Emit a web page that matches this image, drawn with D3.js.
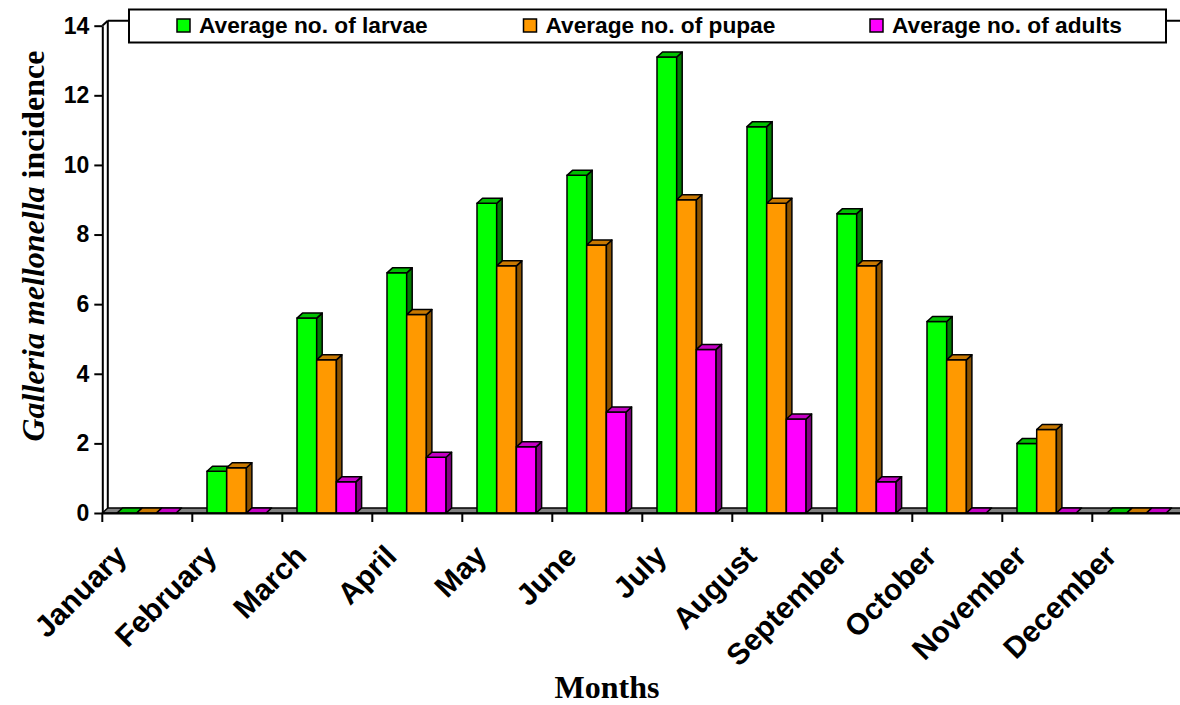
<!DOCTYPE html>
<html>
<head>
<meta charset="utf-8">
<script src="https://cdn.jsdelivr.net/npm/d3@7"></script>
<style>
  html, body { margin: 0; padding: 0; background: #fff; }
  svg { display: block; }
</style>
</head>
<body>
<svg id="chart" width="1180" height="705"></svg>
<script>
// Monthly incidence of Galleria mellonella stages
const months = ["January", "February", "March", "April", "May", "June",
                "July", "August", "September", "October", "November", "December"];
const larvae = [0, 1.2, 5.6, 6.9, 8.9, 9.7, 13.1, 11.1, 8.6, 5.5, 2.0, 0];
const pupae  = [0, 1.3, 4.4, 5.7, 7.1, 7.7, 9.0, 8.9, 7.1, 4.4, 2.4, 0];
const adults = [0, 0, 0.9, 1.6, 1.9, 2.9, 4.7, 2.7, 0.9, 0, 0, 0];
const seriesNames = ["Average no. of larvae", "Average no. of pupae", "Average no. of adults"];
const yTicks = [0, 2, 4, 6, 8, 10, 12, 14];

const seriesValues = [larvae, pupae, adults];
// front / side / top shades for each series
const shades = [
  { front: "#00ff00", side: "#008000", top: "#00c000" },
  { front: "#ff9900", side: "#8a5200", top: "#c87800" },
  { front: "#ff00ff", side: "#850085", top: "#c400c4" }
];

const svg = d3.select("#chart");

// 3D depth offset
const DX = 5.5, DY = 5;

const x0 = d3.scaleBand().domain(months).range([102.3, 1182.3]).paddingInner(0).paddingOuter(0);
const x1 = d3.scaleBand().domain(d3.range(3)).range([14.7, 73.8]);
const y = d3.scaleLinear().domain([0, 14]).range([513, 25.7]);
const yBase = y(0);
const xLeft = x0.range()[0], xRight = x0.range()[1];

const ink = "#000";

// back wall: top edge and left edge
svg.append("line")
  .attr("x1", xLeft + DX).attr("x2", xRight + DX)
  .attr("y1", y(14) - DY).attr("y2", y(14) - DY)
  .attr("stroke", ink).attr("stroke-width", 2);
svg.append("line")
  .attr("x1", xLeft + DX).attr("x2", xLeft + DX)
  .attr("y1", y(14) - DY).attr("y2", yBase - DY)
  .attr("stroke", ink).attr("stroke-width", 2);
svg.append("line")
  .attr("x1", xLeft).attr("x2", xLeft + DX)
  .attr("y1", y(14)).attr("y2", y(14) - DY)
  .attr("stroke", ink).attr("stroke-width", 2);

// floor
const floorPts = [[xLeft, yBase], [xRight, yBase], [xRight + DX, yBase - DY], [xLeft + DX, yBase - DY]];
svg.append("polygon")
  .attr("points", floorPts.map(p => p.join(",")).join(" "))
  .attr("fill", "#808080").attr("stroke", ink).attr("stroke-width", 1.5)
  .attr("stroke-linejoin", "round");

// bars
const bars = svg.append("g");
months.forEach((m, i) => {
  seriesValues.forEach((vals, s) => {
    const v = vals[i];
    const bx = x0(m) + x1(s);
    const w = x1.bandwidth();
    const ty = y(v);
    const g = bars.append("g")
      .attr("stroke", ink).attr("stroke-width", 1.5).attr("stroke-linejoin", "round");
    if (v > 0) {
      g.append("rect")
        .attr("x", bx).attr("y", ty).attr("width", w).attr("height", yBase - ty)
        .attr("fill", shades[s].front);
      g.append("polygon")
        .attr("points", [[bx + w, ty], [bx + w + DX, ty - DY], [bx + w + DX, yBase - DY], [bx + w, yBase]]
          .map(p => p.join(",")).join(" "))
        .attr("fill", shades[s].side);
    }
    g.append("polygon")
      .attr("points", [[bx, ty], [bx + DX, ty - DY], [bx + w + DX, ty - DY], [bx + w, ty]]
        .map(p => p.join(",")).join(" "))
      .attr("fill", shades[s].top);
  });
});

// y axis
const yAxis = d3.axisLeft(y).tickValues(yTicks).tickSize(8).tickSizeOuter(0).tickPadding(5);
const gy = svg.append("g").attr("transform", `translate(${xLeft},0)`).call(yAxis);
gy.select(".domain").attr("stroke", ink).attr("stroke-width", 2);
gy.selectAll(".tick line").attr("stroke", ink).attr("stroke-width", 2);
gy.selectAll(".tick text")
  .attr("font-family", "'Liberation Sans', Arial, sans-serif")
  .attr("font-weight", "bold").attr("font-size", 23).attr("fill", ink);

// x axis
const xAxis = d3.axisBottom(x0).tickSize(0).tickFormat("");
const gx = svg.append("g").attr("transform", `translate(0,${yBase})`).call(xAxis);
gx.select(".domain").attr("stroke", ink).attr("stroke-width", 2);
const bounds = months.map(m => x0(m)).concat([xRight]);
gx.selectAll(".bound").data(bounds).enter().append("line")
  .attr("x1", d => d).attr("x2", d => d).attr("y1", 0).attr("y2", 9)
  .attr("stroke", ink).attr("stroke-width", 2);

// month labels
svg.append("g").selectAll("text").data(months).enter().append("text")
  .attr("transform", d => `translate(${x0(d) + x0.bandwidth() / 2 - 19},558) rotate(-45)`)
  .attr("text-anchor", "end")
  .attr("font-family", "'Liberation Sans', Arial, sans-serif")
  .attr("font-weight", "bold").attr("font-size", 30).attr("fill", ink)
  .text(d => d);

// axis titles
const yTitle = svg.append("text")
  .attr("transform", "translate(44,246) rotate(-90)")
  .attr("text-anchor", "middle")
  .attr("font-family", "'Liberation Serif', 'Times New Roman', serif")
  .attr("font-weight", "bold").attr("font-size", 32).attr("fill", ink);
yTitle.append("tspan").attr("font-style", "italic").text("Galleria mellonella");
yTitle.append("tspan").text(" incidence");

svg.append("text")
  .attr("x", 607).attr("y", 698)
  .attr("text-anchor", "middle")
  .attr("font-family", "'Liberation Serif', 'Times New Roman', serif")
  .attr("font-weight", "bold").attr("font-size", 32).attr("fill", ink)
  .text("Months");

// legend
const legend = svg.append("g");
legend.append("rect")
  .attr("x", 129).attr("y", 9.5).attr("width", 1037).attr("height", 33)
  .attr("fill", "#fff").attr("stroke", ink).attr("stroke-width", 2);
const items = legend.selectAll(".item").data(seriesNames).enter().append("g")
  .attr("transform", (d, i) => `translate(${177 + i * 346.5},0)`);
items.append("rect")
  .attr("x", 0).attr("y", 19).attr("width", 13).attr("height", 13)
  .attr("fill", (d, i) => shades[i].front).attr("stroke", ink).attr("stroke-width", 1.5);
items.append("text")
  .attr("x", 22).attr("y", 33)
  .attr("font-family", "'Liberation Sans', Arial, sans-serif")
  .attr("font-weight", "bold").attr("font-size", 22.7).attr("fill", ink)
  .text(d => d);
</script>
</body>
</html>
